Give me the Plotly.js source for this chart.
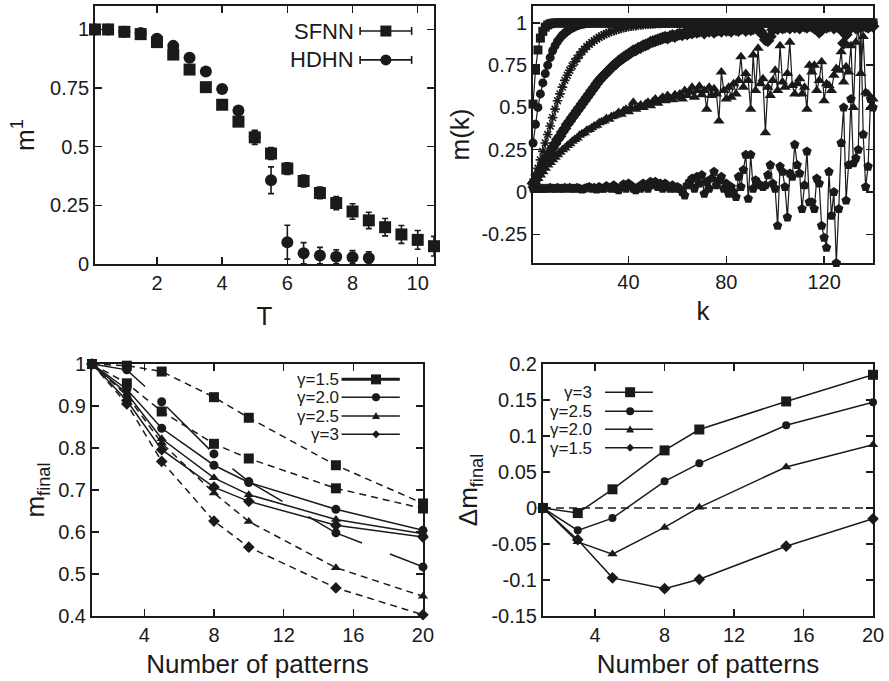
<!DOCTYPE html>
<html><head><meta charset="utf-8">
<script src="https://cdn.plot.ly/plotly-3.0.1.min.js"></script>
<style>html,body{margin:0;padding:0;background:#fff}#chart{width:889px;height:681px}</style>
</head><body><div id="chart"></div>
<script>
// ---------- Panel 1: m^1 vs T ----------
const T_sfnn = [0.1,0.5,1,1.5,2,2.5,3,3.5,4,4.5,5,5.5,6,6.5,7,7.5,8,8.5,9,9.5,10,10.5];
const m_sfnn = [1.0,1.0,0.99,0.98,0.946,0.893,0.829,0.754,0.679,0.607,0.54,0.471,0.407,0.354,0.303,0.26,0.224,0.186,0.157,0.126,0.103,0.076];
const e_sfnn = [0.003,0.003,0.004,0.005,0.006,0.008,0.01,0.01,0.012,0.015,0.03,0.025,0.025,0.025,0.025,0.028,0.033,0.035,0.037,0.038,0.04,0.042];
const T_hdhn = [0.1,0.5,1,1.5,2,2.5,3,3.5,4,4.5,5,5.5,6,6.5,7,7.5,8,8.5];
const m_hdhn = [1.0,1.0,0.99,0.985,0.96,0.93,0.879,0.821,0.746,0.654,0.543,0.357,0.093,0.046,0.036,0.031,0.029,0.026];
const e_hdhn = [0.003,0.003,0.004,0.005,0.006,0.008,0.01,0.01,0.012,0.015,0.025,0.057,0.072,0.045,0.035,0.03,0.028,0.026];

// ---------- Panel 2: m(k) vs k ----------
const K = [1,2,3,4,5,6,7,8,9,10,11,12,13,14,15,16,17,18,19,20,
21,22,23,24,25,26,27,28,29,30,31,32,33,34,35,36,37,38,39,40,
41,42,43,44,45,46,47,48,49,50,51,52,53,54,55,56,57,58,59,60,
61,62,63,64,65,66,67,68,69,70,71,72,73,74,75,76,77,78,79,80,
81,82,83,84,85,86,87,88,89,90,91,92,93,94,95,96,97,98,99,100,
101,102,103,104,105,106,107,108,109,110,111,112,113,114,115,116,117,118,119,120,
121,122,123,124,125,126,127,128,129,130,131,132,133,134,135,136,137,138,139,140];
const mk_square = [0.52,0.72,0.84,0.91,0.95,0.975,0.988,0.995,0.998,1,
1,1,1,1,1,1,1,1,1,1, 1,1,1,1,1,1,1,1,1,1, 1,1,1,1,1,1,1,1,1,1,
1,1,1,1,1,1,1,1,1,1, 1,1,1,1,1,1,1,1,1,1, 1,1,1,1,1,1,1,1,1,1,
1,1,1,1,1,1,1,1,1,1, 1,1,1,1,1,1,1,1,1,1, 1,1,1,1,1,1,1,1,1,1,
1,1,1,1,1,1,1,1,1,1, 1,1,1,1,1,1,1,1,1,1, 1,1,1,1,1,1,1,1,1,1,
1,1,1,1,1,1,1,1,1,1];
const mk_circle = [0.29,0.40,0.50,0.58,0.645,0.70,0.75,0.795,0.835,0.865,
0.89,0.91,0.927,0.94,0.952,0.962,0.97,0.977,0.983,0.988,
0.991,0.994,0.996,0.998,0.999,1,1,1,1,1,
1,1,1,1,1,1,1,1,1,1, 1,1,1,1,1,1,1,1,1,1, 1,1,1,1,1,1,1,1,1,1,
1,1,1,1,1,1,1,1,1,1, 1,1,1,1,1,1,1,1,1,1, 1,1,1,1,1,1,1,1,1,1,
1,1,1,1,1,1,1,1,1,1, 1,1,1,1,1,1,1,1,1,1, 1,1,1,1,1,1,1,1,1,1,
1,1,1,1,1,1,1,1,1,1, 1,1,1,1,1,1,1,1,1,1];
const mk_cross = [0.06,0.10,0.14,0.19,0.24,0.29,0.34,0.39,0.44,0.49,
0.54,0.58,0.62,0.66,0.69,0.72,0.745,0.77,0.79,0.81,
0.83,0.845,0.86,0.873,0.885,0.895,0.905,0.915,0.923,0.93,
0.937,0.943,0.949,0.954,0.959,0.963,0.967,0.971,0.974,0.977,
0.98,0.982,0.984,0.986,0.988,0.99,0.991,0.992,0.993,0.994,
0.995,0.996,0.997,0.998,0.998,0.999,0.999,1,1,1,
1,1,1,1,1,1,1,1,1,1, 1,1,1,1,1,1,1,1,1,1, 1,1,1,1,1,1,1,1,1,1,
1,1,1,1,1,1,1,1,1,1, 1,1,1,1,1,1,1,1,1,1, 1,1,1,1,1,1,1,1,1,1,
1,1,1,1,1,1,1,1,1,1, 1,1,1,1,1,1,1,1,1,1];
const mk_diamond = [0.05,0.07,0.10,0.13,0.16,0.185,0.21,0.235,0.26,0.285,
0.31,0.33,0.355,0.375,0.40,0.42,0.44,0.46,0.48,0.50,
0.52,0.54,0.56,0.58,0.60,0.62,0.64,0.66,0.675,0.69,
0.705,0.72,0.735,0.75,0.76,0.775,0.785,0.795,0.805,0.815,
0.825,0.835,0.84,0.85,0.855,0.865,0.87,0.875,0.885,0.89,
0.895,0.90,0.905,0.91,0.915,0.91,0.92,0.925,0.92,0.93,
0.935,0.93,0.94,0.935,0.945,0.94,0.95,0.945,0.95,0.955,
0.94,0.955,0.95,0.96,0.945,0.955,0.96,0.95,0.965,0.955,
0.96,0.95,0.965,0.96,0.955,0.965,0.97,0.955,0.97,0.96,
0.965,0.975,0.96,0.95,0.93,0.90,0.895,0.92,0.96,0.975,
0.965,0.98,0.97,0.975,0.98,0.97,0.985,0.975,0.98,0.97,
0.985,0.98,0.975,0.985,0.98,0.97,0.985,0.945,0.96,0.985,
0.975,0.98,0.985,0.97,0.98,0.975,0.96,0.88,0.93,0.96,
0.975,0.985,0.97,0.98,0.975,0.985,0.98,0.975,0.985,0.98];
const mk_triangle = [0.04,0.06,0.08,0.10,0.12,0.14,0.16,0.175,0.19,0.205,
0.22,0.235,0.25,0.26,0.275,0.285,0.30,0.31,0.32,0.335,
0.345,0.35,0.365,0.37,0.38,0.39,0.395,0.41,0.415,0.42,
0.435,0.43,0.445,0.45,0.455,0.47,0.46,0.48,0.49,0.475,
0.50,0.53,0.49,0.50,0.515,0.50,0.52,0.53,0.51,0.535,
0.55,0.525,0.545,0.56,0.54,0.57,0.555,0.545,0.575,0.56,
0.58,0.55,0.60,0.57,0.59,0.62,0.56,0.60,0.625,0.575,
0.60,0.49,0.62,0.57,0.61,0.58,0.42,0.71,0.60,0.55,
0.62,0.56,0.64,0.58,0.66,0.80,0.62,0.70,0.66,0.49,
0.81,0.60,0.85,0.64,0.67,0.35,0.62,0.57,0.66,0.72,
0.60,0.865,0.65,0.62,0.70,0.885,0.63,0.58,0.64,0.67,
0.58,0.62,0.49,0.75,0.71,0.75,0.60,0.66,0.77,0.54,
0.64,0.63,0.60,0.69,0.73,0.72,0.83,0.65,0.74,0.71,
0.865,0.50,0.885,0.97,0.70,0.92,0.59,0.58,0.50,0.55];
const mk_pentagon = [0.02,0.02,0.02,0.02,0.02,0.02,0.02,0.025,0.02,0.02,
0.025,0.02,0.02,0.025,0.02,0.025,0.02,0.02,0.025,0.02,
0.015,0.02,0.025,0.03,0.02,0.025,0.015,0.03,0.02,0.02,
0.035,0.025,0.02,0.04,0.02,0.01,0.03,0.045,0.02,0.05,
0.04,0.02,0.01,0.03,0.02,0.05,0.03,0.02,0.06,0.04,
0.06,0.03,0.05,0.02,0.05,0.03,0.02,0.04,0.02,0.03,
0.02,0.0,-0.02,0.04,0.06,0.08,0.02,0.09,0.05,0.10,
-0.01,0.06,0.02,0.08,0.12,0.04,0.07,0.09,0.02,0.05,
-0.01,0.03,0.0,-0.03,0.09,0.03,0.13,0.22,-0.04,0.22,
0.02,0.07,0.05,0.04,0.03,0.04,0.10,0.16,0.05,0.02,
-0.20,0.15,0.12,0.03,-0.15,0.11,0.09,0.28,0.16,0.11,
-0.10,0.04,0.24,-0.06,-0.06,-0.10,0.08,0.05,-0.20,-0.27,
-0.33,0.12,-0.14,0.0,-0.42,-0.10,0.29,0.50,-0.05,0.16,
0.55,0.17,0.20,0.25,1.0,0.34,0.03,0.15,0.55,0.50];

// ---------- Panel 3: m_final vs number of patterns ----------
const P = [1,3,5,8,10,15,20];
const mf_sq_a = [1,0.996,0.982,0.921,0.872,0.759,0.668];
const mf_sq_b = [1,0.954,0.887,0.810,0.775,0.704,0.656];
const mf_ci_a = [1,0.986,0.910,0.786,0.720,0.598,0.517];
const mf_ci_b = [1,0.940,0.847,0.759,0.718,0.654,0.604];
const mf_tr_a = [1,0.930,0.822,0.729,0.689,0.630,0.596];
const mf_tr_b = [1,0.925,0.812,0.693,0.625,0.515,0.447];
const mf_di_a = [1,0.913,0.796,0.707,0.673,0.616,0.588];
const mf_di_b = [1,0.905,0.768,0.626,0.564,0.467,0.403];
const legend3 = ['γ=1.5','γ=2.0','γ=2.5','γ=3'];

// ---------- Panel 4: Δm_final vs number of patterns ----------
const dm_g3  = [0,-0.007,0.026,0.080,0.109,0.148,0.185];
const dm_g25 = [0,-0.031,-0.014,0.037,0.062,0.115,0.147];
const dm_g20 = [0,-0.047,-0.064,-0.027,0.001,0.057,0.088];
const dm_g15 = [0,-0.044,-0.097,-0.112,-0.099,-0.053,-0.015];
const legend4 = ['γ=3','γ=2.5','γ=2.0','γ=1.5'];

// tick labels
const ticks1x = [2,4,6,8,10], ticks1y = [0,0.25,0.5,0.75,1];
const ticks2x = [40,80,120], ticks2y = [-0.25,0,0.25,0.5,0.75,1];
const ticks2yText = ['-0.25','0','0.25','0.5','0.75','1'];
const ticks3x = [4,8,12,16,20], ticks3y = [0.4,0.5,0.6,0.7,0.8,0.9,1];
const ticks4y = [-0.15,-0.1,-0.05,0,0.05,0.1,0.15,0.2];
const ticks4yText = ['-0.15','-0.1','-0.05','0','0.05','0.1','0.15','0.2'];

const INK = '#1a1a1a';
const FONT = 'Liberation Sans, Arial, sans-serif';

function mk(sym, size){ return {symbol: sym, size: size, color: INK, line:{width:0, color: INK}}; }

const traces = [];
// Panel 1
traces.push({x:T_sfnn, y:m_sfnn, xaxis:'x', yaxis:'y', type:'scatter', mode:'markers', cliponaxis:false,
  marker: mk('square', 12), error_y:{type:'data', array:e_sfnn, color:INK, thickness:1.6, width:3}});
traces.push({x:T_hdhn, y:m_hdhn, xaxis:'x', yaxis:'y', type:'scatter', mode:'markers', cliponaxis:false,
  marker: mk('circle', 12), error_y:{type:'data', array:e_hdhn, color:INK, thickness:1.6, width:3}});

// Panel 2
const p2 = [
  [mk_pentagon,'pentagon',10],
  [mk_triangle,'triangle-up',10],
  [mk_diamond,'diamond',10],
  [mk_cross,'asterisk-open',8],
  [mk_circle,'circle',9],
  [mk_square,'square',9]
];
p2.forEach(([ys,sym,sz]) => {
  const m = mk(sym, sz);
  if (sym === 'asterisk-open') m.line = {width:1.6, color: INK};
  traces.push({x:K, y:ys, xaxis:'x2', yaxis:'y2', type:'scatter', mode:'lines+markers', cliponaxis:false,
    line:{color:INK, width:1.2}, marker:m});
});

// Panel 3
const dashS = '7px,5px';
const p3 = [
  [mf_sq_a,'square',10,dashS],
  [mf_sq_b,'square',10,dashS],
  [mf_ci_a,'circle',9,'60px,30px'],
  [mf_ci_b,'circle',9,'solid'],
  [mf_tr_a,'triangle-up',9,'solid'],
  [mf_tr_b,'triangle-up',9,dashS],
  [mf_di_a,'diamond',9,'solid'],
  [mf_di_b,'diamond',9,dashS]
];
p3.forEach(([ys,sym,sz,dash]) => {
  traces.push({x:P, y:ys, xaxis:'x3', yaxis:'y3', type:'scatter', mode:'lines+markers', cliponaxis:false,
    line:{color:INK, width:1.5, dash:dash}, marker:mk(sym, sz)});
});

// Panel 4
[[dm_g3,'square',10],[dm_g25,'circle',8],[dm_g20,'triangle-up',9],[dm_g15,'diamond',9]].forEach(([ys,sym,sz]) => {
  traces.push({x:P, y:ys, xaxis:'x4', yaxis:'y4', type:'scatter', mode:'lines+markers', cliponaxis:false,
    line:{color:INK, width:1.5}, marker:mk(sym, sz)});
});

function ax(o){
  return Object.assign({showline:true, mirror:'ticks', linecolor:INK, linewidth:2, ticks:'inside', ticklen:7,
    tickwidth:1.5, tickcolor:INK, showgrid:false, zeroline:false, automargin:false,
    tickfont:{family:FONT, size:20, color:INK}}, o);
}
const TF = {family:FONT, size:26, color:INK};

// legends (drawn as layout decorations)
const shapes = [];
const annotations = [];
function legendRow(xr, yr, text, tx, lx0, lx1, mx, y, sym, size, lw, caps, fs, boxH){
  const a = {xref:xr+' domain', yref:yr+' domain', x:tx, y:y, xanchor:'right', yanchor:'middle',
    text:text, showarrow:false, borderpad:0, font:{family:FONT, size:fs, color:INK}};
  if (boxH) { a.height = boxH; a.valign = 'middle'; }
  annotations.push(a);
  shapes.push({type:'line', xref:xr+' domain', yref:yr+' domain', x0:lx0, x1:lx1, y0:y, y1:y, line:{color:INK, width:lw}});
  if (caps) {
    [lx0, lx1].forEach(cx => shapes.push({type:'line', xref:xr+' domain', yref:yr+' domain', ysizemode:'pixel', yanchor:y,
      x0:cx, x1:cx, y0:-4, y1:4, line:{color:INK, width:1.6}}));
  }
  const h = size/2;
  const base = {xref:xr+' domain', yref:yr+' domain', xsizemode:'pixel', ysizemode:'pixel', xanchor:mx, yanchor:y,
    fillcolor:INK, line:{width:0}};
  if (sym==='square') shapes.push(Object.assign({type:'rect', x0:-h, x1:h, y0:-h, y1:h}, base));
  if (sym==='circle') shapes.push(Object.assign({type:'circle', x0:-h, x1:h, y0:-h, y1:h}, base));
  if (sym==='triangle') shapes.push(Object.assign({type:'path', path:`M ${-h},${-h*0.8} L ${h},${-h*0.8} L 0,${h} Z`}, base));
  if (sym==='diamond') shapes.push(Object.assign({type:'path', path:`M ${-h},0 L 0,${h} L ${h},0 L 0,${-h} Z`}, base));
}
legendRow('x','y','SFNN',0.767,0.782,0.934,0.858,0.903,'square',11,1.6,true,22,null);
legendRow('x','y','HDHN',0.767,0.782,0.934,0.858,0.791,'circle',11,1.6,true,22,null);
const l3sym = ['square','circle','triangle','diamond'];
const l3y = [0.939,0.868,0.794,0.721];
legend3.forEach((t,i)=> legendRow('x3','y3',t,0.749,0.754,0.93,0.858,l3y[i],l3sym[i], i===0?10:8, i===0?3:1.5,false,17,18));
const l4y = [0.888,0.813,0.741,0.668];
legend4.forEach((t,i)=> legendRow('x4','y4',t,0.152,0.188,0.333,0.264,l4y[i],l3sym[i], i===0?10:8,1.5,false,17,18));
// zero reference line in panel 4
shapes.push({type:'line', xref:'x4 domain', yref:'y4', x0:0, x1:1, y0:0, y1:0, line:{color:INK, width:1.6, dash:'8px,5px'}});

const layout = {
  width:889, height:681, margin:{l:0,r:0,t:0,b:0}, showlegend:false,
  paper_bgcolor:'#fff', plot_bgcolor:'#fff', font:{family:FONT, color:INK},
  xaxis: ax({domain:[0.1069,0.4882], range:[0.1,10.5], tickvals:ticks1x, anchor:'y',
    title:{text:'T', font:TF, standoff:14}}),
  yaxis: ax({domain:[0.6123,0.9912], range:[0,1.1], tickvals:ticks1y, anchor:'x',
    title:{text:'m<sup>1</sup>', font:TF, standoff:8}}),
  xaxis2: ax({domain:[0.5996,0.9820], range:[1,140], tickvals:ticks2x, anchor:'y2',
    title:{text:'k', font:TF, standoff:10}}),
  yaxis2: ax({domain:[0.6138,0.9912], range:[-0.42,1.1], tickvals:ticks2y, ticktext:ticks2yText, anchor:'x2',
    title:{text:'m(k)', font:TF, standoff:4}}),
  xaxis3: ax({domain:[0.1035,0.4758], range:[1,20], tickvals:ticks3x, anchor:'y3',
    title:{text:'Number of patterns', font:TF, standoff:10}}),
  yaxis3: ax({domain:[0.0954,0.4655], range:[0.4,1], tickvals:ticks3y, anchor:'x3',
    title:{text:'m<sub>final</sub>', font:TF, standoff:6}}),
  xaxis4: ax({domain:[0.6108,0.9820], range:[1,20], tickvals:ticks3x, anchor:'y4',
    title:{text:'Number of patterns', font:TF, standoff:10}}),
  yaxis4: ax({domain:[0.0954,0.4655], range:[-0.15,0.2], tickvals:ticks4y, ticktext:ticks4yText, anchor:'x4',
    title:{text:'Δm<sub>final</sub>', font:TF, standoff:6}}),
  shapes: shapes, annotations: annotations
};

Plotly.newPlot('chart', traces, layout, {displayModeBar:false, staticPlot:true});
</script></body></html>
